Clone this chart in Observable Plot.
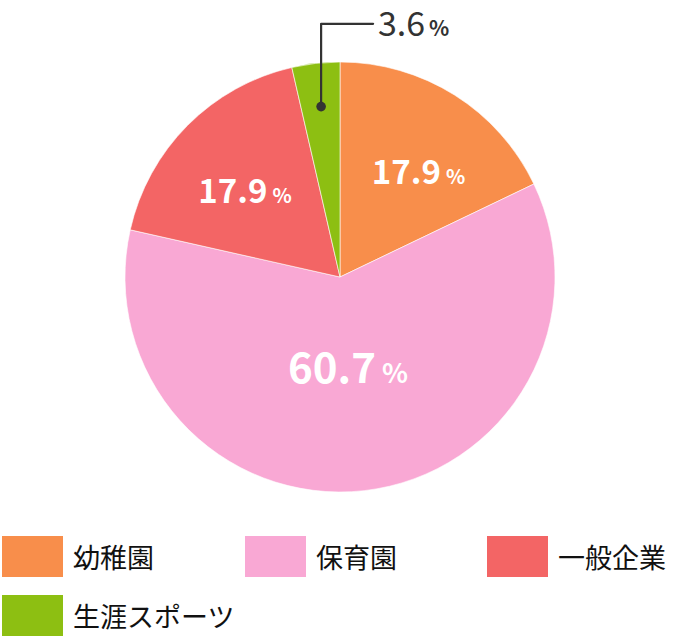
<!DOCTYPE html>
<html>
<head>
<meta charset="utf-8">
<script src="https://cdn.jsdelivr.net/npm/d3@7"></script>
<script src="https://cdn.jsdelivr.net/npm/@observablehq/plot@0.6"></script>
<style>
  html, body { margin: 0; padding: 0; background: #fff; }
  body { width: 680px; height: 640px; overflow: hidden; font-family: "Noto Sans CJK JP", "Noto Sans", sans-serif; }
  #chart svg { display: block; overflow: visible; }
  .legend { display: grid; grid-template-columns: 243px 242px 195px; row-gap: 18px; padding-left: 2px; margin-top: 16px; }
  .legend .item { display: flex; align-items: center; height: 41px; }
  .legend .sw { width: 61px; height: 41px; flex: none; }
  .legend .lb { margin-left: 10px; font-size: 27px; color: #111; line-height: 1; white-space: nowrap; }
</style>
</head>
<body>
<div id="chart"></div>
<script>
const categories = ["幼稚園", "保育園", "一般企業", "生涯スポーツ"];
const shares = [17.9, 60.7, 17.9, 3.6];
const colors = ["#f88e4b", "#f9a8d4", "#f36565", "#8dbf12"];

const rows = categories.map((c, i) => ({category: c, value: shares[i], color: colors[i]}));
const arcs = d3.pie().sort(null).value(d => d.value)(rows);
arcs.forEach(a => { a.mid = (a.startAngle + a.endAngle) / 2; });

const FONT = "Noto Sans CJK JP";
const inside = arcs.filter(a => a.data.value >= 10);
const outside = arcs.filter(a => a.data.value < 10);
const k = a => a.data.value > 50 ? 0.43 : 0.65;
const lab = inside.map(a => ({
  x: k(a) * Math.sin(a.mid), y: k(a) * Math.cos(a.mid),
  num: a.data.value.toFixed(1), big: a.data.value > 50
}));
const bigLab = lab.filter(d => d.big), smallLab = lab.filter(d => !d.big);

// leader for small slice
const PX = 1 / 215;
const lead = outside.map(a => {
  const x0 = 0.8 * Math.sin(a.mid), y0 = 0.8 * Math.cos(a.mid);
  return {x0, y0, top: 1.18, x1: x0 + 52 * PX, num: a.data.value.toFixed(1)};
});
const leadPts = lead.flatMap(d => [{x: d.x0, y: d.y0}, {x: d.x0, y: d.top}, {x: d.x1, y: d.top}]);

const pieMark = (index, scales) => {
  const cx = scales.x(0), cy = scales.y(0), R = scales.x(1) - cx;
  const g = d3.create("svg:g").attr("transform", `translate(${cx},${cy})`);
  const arc = d3.arc().innerRadius(0).outerRadius(R);
  g.selectAll("path").data(arcs).join("path")
    .attr("d", arc)
    .attr("fill", d => d.data.color)
    .attr("stroke", "#fff")
    .attr("stroke-width", 0.6);
  return g.node();
};

const plot = Plot.plot({
  width: 680,
  height: 520,
  margin: 0,
  x: {domain: [-1, 1], range: [125, 555], axis: null},
  y: {domain: [-1, 1], range: [492, 62], axis: null},
  marks: [
    pieMark,
    // inside labels (small)
    Plot.text(smallLab, {x: "x", y: "y", text: "num", dx: 26, dy: 14, textAnchor: "end", lineAnchor: "middle",
      fill: "#fff", fontSize: 33, fontWeight: "bold", fontFamily: FONT}),
    Plot.text(smallLab, {x: "x", y: "y", text: () => "%", dx: 31, dy: 18, textAnchor: "start", lineAnchor: "middle",
      fill: "#fff", fontSize: 20, fontWeight: "bold", fontFamily: FONT}),
    // inside label (big)
    Plot.text(bigLab, {x: "x", y: "y", text: "num", dx: 25, textAnchor: "end", lineAnchor: "middle",
      fill: "#fff", fontSize: 42, fontWeight: "bold", fontFamily: FONT}),
    Plot.text(bigLab, {x: "x", y: "y", text: () => "%", dx: 31, dy: 5, textAnchor: "start", lineAnchor: "middle",
      fill: "#fff", fontSize: 27, fontWeight: "bold", fontFamily: FONT}),
    // leader
    Plot.line(leadPts, {x: "x", y: "y", stroke: "#333", strokeWidth: 2.2}),
    Plot.dot(lead, {x: "x0", y: "y0", r: 4.8, fill: "#333"}),
    Plot.text(lead, {x: "x1", y: "top", text: "num", dx: 52, dy: 1, textAnchor: "end", lineAnchor: "middle",
      fill: "#333", fontSize: 34, fontWeight: "normal", fontFamily: FONT}),
    Plot.text(lead, {x: "x1", y: "top", text: () => "%", dx: 56, dy: 5, textAnchor: "start", lineAnchor: "middle",
      fill: "#333", fontSize: 21, fontWeight: "bold", fontFamily: FONT})
  ]
});

const root = document.getElementById("chart");
root.appendChild(plot);

const legend = document.createElement("div");
legend.className = "legend";
rows.forEach(r => {
  const it = document.createElement("div");
  it.className = "item";
  const sw = document.createElement("span");
  sw.className = "sw";
  sw.style.background = r.color;
  const lb = document.createElement("span");
  lb.className = "lb";
  lb.textContent = r.category;
  it.appendChild(sw); it.appendChild(lb);
  legend.appendChild(it);
});
root.appendChild(legend);
</script>
</body>
</html>
